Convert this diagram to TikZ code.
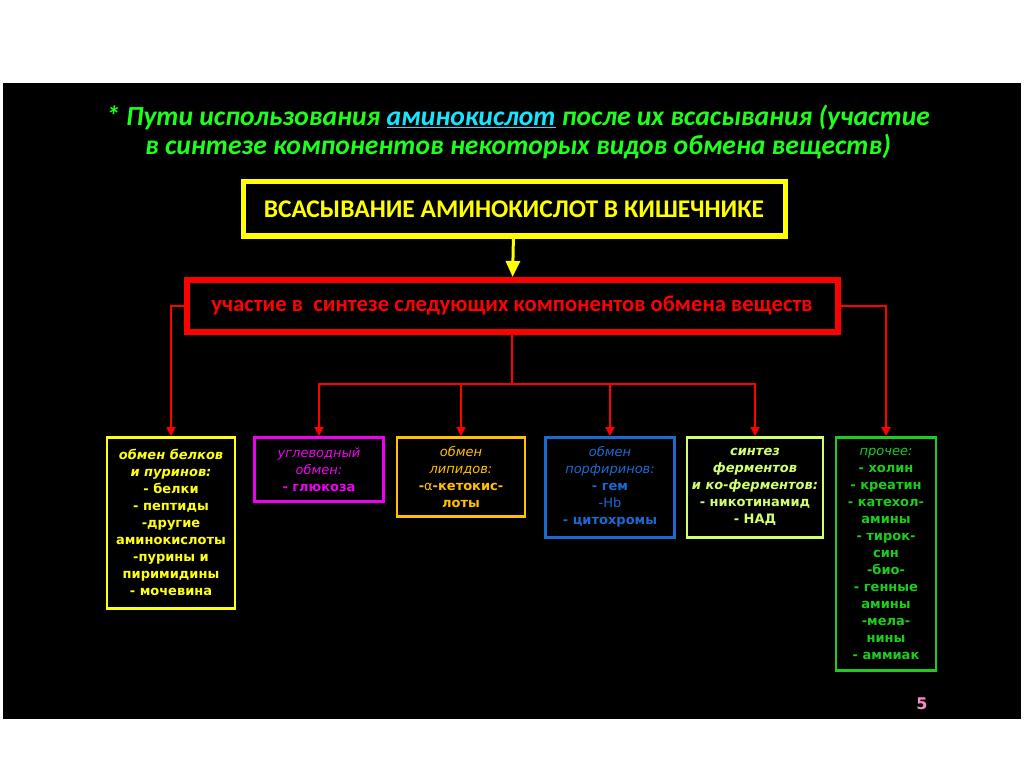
\documentclass[tikz,border=0pt]{standalone}
\usepackage{fontspec}
\setmainfont{DejaVu Sans}
\newfontfamily\calibri{Carlito}
\usetikzlibrary{shapes, arrows, arrows.meta}
\definecolor{titlegreen}{HTML}{1EFF1E}
\definecolor{titlecyan}{HTML}{14E6FF}
\definecolor{absorbyellow}{HTML}{FFFF00}
\definecolor{synthred}{HTML}{FF0000}
\definecolor{protyellow}{HTML}{FFFF14}
\definecolor{carbmagenta}{HTML}{F000F0}
\definecolor{lipidorange}{HTML}{FFC000}
\definecolor{porphblue}{HTML}{1A6AD2}
\definecolor{enzgreen}{HTML}{D2FF70}
\definecolor{othergreen}{HTML}{1ECC1E}
\definecolor{pagepink}{HTML}{FF8CC8}
\tikzstyle{absorbbox} = [rectangle, draw=absorbyellow, line width=5pt,
    text=absorbyellow, minimum width=542pt, minimum height=54pt,
    font=\calibri\bfseries\fontsize{25.5}{28}\selectfont]
\tikzstyle{synthbox} = [rectangle, draw=synthred, line width=6pt,
    text=synthred, minimum width=651pt, minimum height=52pt,
    font=\calibri\bfseries\fontsize{22.7}{26}\selectfont]
\tikzstyle{pathbox} = [rectangle, draw, line width=2.5pt, anchor=north,
    align=center, inner sep=0pt, font=\bfseries\fontsize{13}{17}\selectfont]
\tikzstyle{line} = [draw, synthred, line width=2.5pt,
    -{Triangle[width=9pt, length=9pt]}]
\tikzstyle{bigline} = [draw, absorbyellow, line width=3pt,
    -{Triangle[width=14pt, length=16pt]}]

\begin{document}
\begin{tikzpicture}[x=1pt, y=-1pt]
    \useasboundingbox (0,0) rectangle (1024,767);
    \fill[white] (0,0) rectangle (1024,767);
    \fill[black] (3,83) rectangle (1021,719);
    % Title
    \node [text=titlegreen, align=center,
        font=\calibri\bfseries\itshape\fontsize{27.6}{29}\selectfont] (title) at (518,132)
        {* Пути использования \textcolor{titlecyan}{\underline{аминокислот}} после их всасывания (участие\\
         в синтезе компонентов некоторых видов обмена веществ)};
    % Nodes
    \node [absorbbox] (absorb) at (514,209) {ВСАСЫВАНИЕ АМИНОКИСЛОТ В КИШЕЧНИКЕ};
    \node [synthbox] (synth) at (512,306) {участие в~ синтезе следующих компонентов обмена веществ};
    \node [pathbox, draw=protyellow, text=protyellow, minimum width=128pt, minimum height=171pt]
        (proteins) at (171,436)
        {{\itshape обмен белков}\\ {\itshape и пуринов:}\\ - белки\\ - пептиды\\ -другие\\
         аминокислоты\\ -пурины и\\ пиримидины\\ - мочевина};
    \node [pathbox, draw=carbmagenta, text=carbmagenta, minimum width=129pt, minimum height=64pt]
        (carbs) at (319,436)
        {{\mdseries\itshape углеводный}\\ {\mdseries\itshape обмен:}\\ - глюкоза};
    \node [pathbox, draw=lipidorange, text=lipidorange, minimum width=128pt, minimum height=79pt]
        (lipids) at (461,436)
        {{\mdseries\itshape обмен}\\ {\mdseries\itshape липидов:}\\ -{\mdseries α}-кетокис-\\ лоты};
    \node [pathbox, draw=porphblue, text=porphblue, minimum width=129pt, minimum height=100pt]
        (porph) at (610,436)
        {{\mdseries\itshape обмен}\\ {\mdseries\itshape порфиринов:}\\ - гем\\ {\mdseries -Hb}\\ - цитохромы};
    \node [pathbox, draw=enzgreen, text=enzgreen, minimum width=136pt, minimum height=100pt]
        (enzymes) at (755,436)
        {{\itshape синтез}\\ {\itshape ферментов}\\ {\itshape и ко-ферментов:}\\ - никотинамид\\ - НАД};
    \node [pathbox, draw=othergreen, text=othergreen, minimum width=100pt, minimum height=233pt]
        (other) at (886,436)
        {{\mdseries\itshape прочее:}\\ - холин\\ - креатин\\ - катехол-\\ амины\\ - тирок-\\ син\\
         -био-\\ - генные\\ амины\\ -мела-\\ нины\\ - аммиак};
    \node [text=pagepink, font=\bfseries\fontsize{16}{18}\selectfont] (page) at (922,704) {5};
    \coordinate (bus) at (512,384);
    % Edges
    \path [bigline] (absorb) -- (synth);
    \path [line] (synth.west) -| (proteins.north);
    \path [line] (synth.east) -| (other.north);
    \draw [synthred, line width=2.5pt] (synth.south) -- (bus);
    \path [line] (bus) -| (carbs.north);
    \path [line] (bus) -| (lipids.north);
    \path [line] (bus) -| (porph.north);
    \path [line] (bus) -| (enzymes.north);
\end{tikzpicture}
\end{document}
